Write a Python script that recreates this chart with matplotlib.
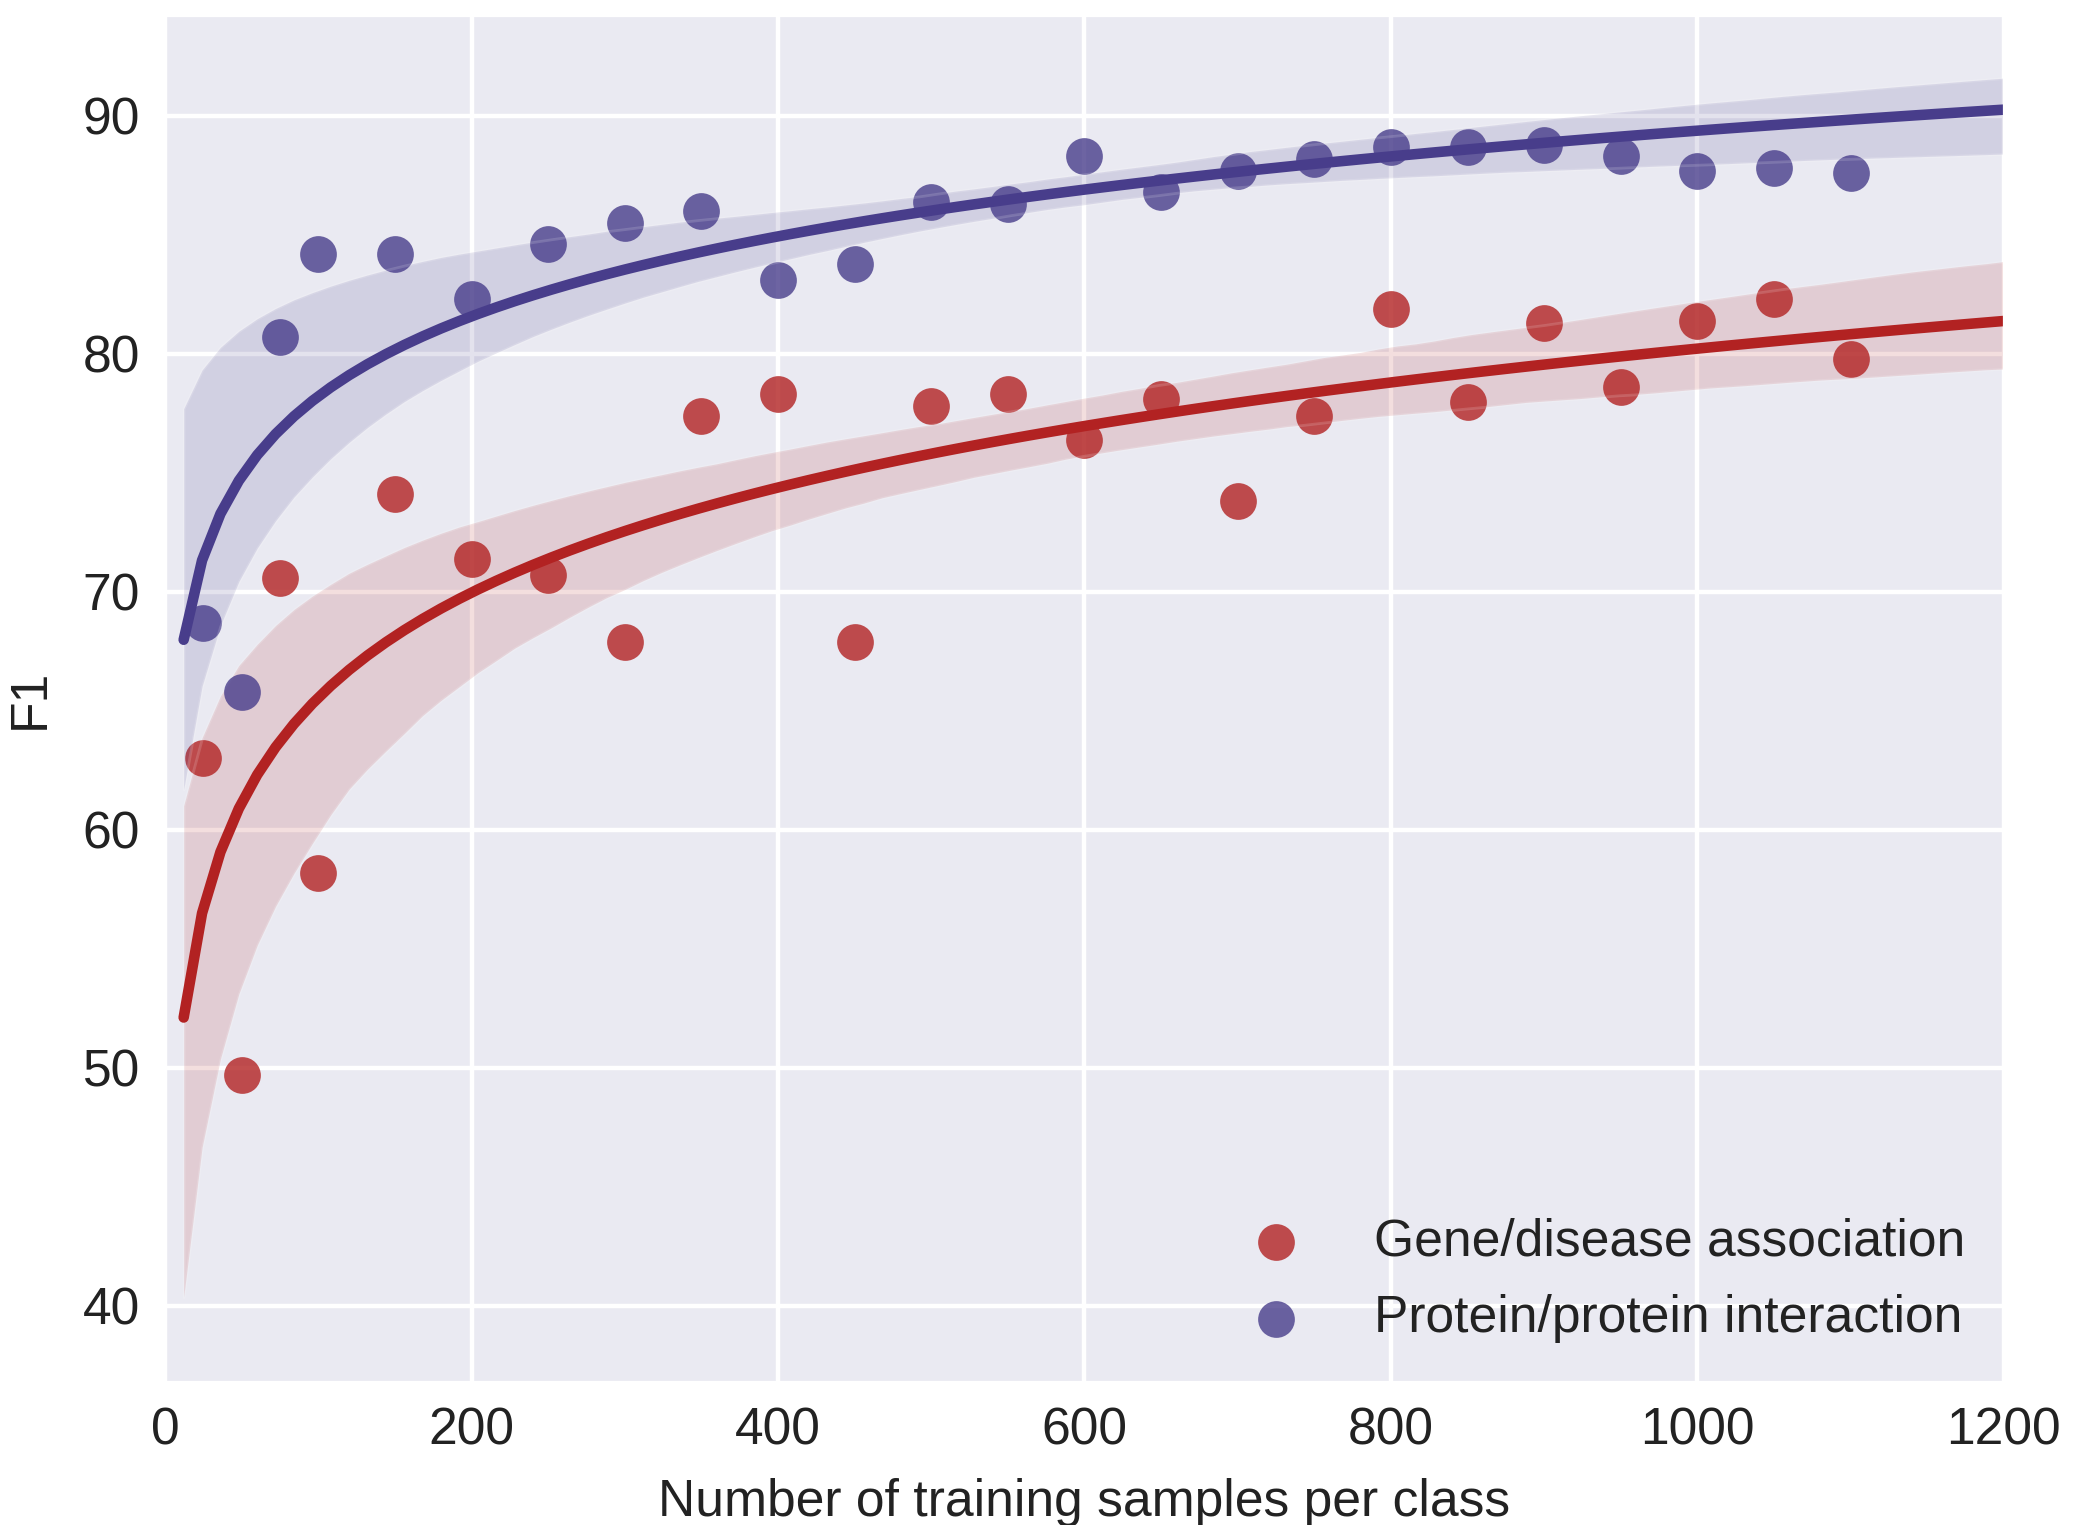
import numpy as np
import matplotlib
matplotlib.use("Agg")
import matplotlib.pyplot as plt
import seaborn as sns

# ---- data ----
samples = [25, 50, 75, 100, 150, 200, 250, 300, 350, 400, 450, 500, 550,
           600, 650, 700, 750, 800, 850, 900, 950, 1000, 1050, 1100]
gene_disease_f1 = [63.0, 49.7, 70.6, 58.2, 74.1, 71.4, 70.7, 67.9, 77.4, 78.3,
                   67.9, 77.8, 78.3, 76.4, 78.1, 73.8, 77.4, 81.9, 78.0, 81.3,
                   78.6, 81.4, 82.3, 79.8]
protein_f1 = [68.7, 65.8, 80.7, 84.2, 84.2, 82.3, 84.6, 85.5, 86.0, 83.1,
              83.8, 86.4, 86.3, 88.3, 86.8, 87.7, 88.2, 88.7, 88.7, 88.8,
              88.3, 87.7, 87.8, 87.6]
labels = ["Gene/disease association", "Protein/protein interaction"]
colors = ["#B22222", "#483D8B"]
x_ticks = [0, 200, 400, 600, 800, 1000, 1200]
y_ticks = [40, 50, 60, 70, 80, 90]

sns.set_style("darkgrid")
plt.rcParams['font.family'] = ['Liberation Sans', 'DejaVu Sans']
FS = 18.6
TXT = '#222222'

fig = plt.figure(figsize=(10.37, 7.625), dpi=200)
ax = fig.add_axes([0.0796, 0.0938, 0.8866, 0.8957])

xs = np.array(samples, dtype=float)
# grid for the fitted curve: same as linspace(0, 1200, 100) without the zero
ax.set_xlim(1200 / 99, 1200)
handles = []
for ys, lab, col in zip([gene_disease_f1, protein_f1], labels, colors):
    n_before = len(ax.collections)
    sns.regplot(x=xs, y=np.array(ys), ax=ax, logx=True, truncate=False,
                color=col, seed=3, n_boot=1000,
                scatter_kws=dict(s=175, alpha=0.8, linewidths=0),
                line_kws=dict(lw=3.8))
    sc = ax.collections[n_before]
    sc.set_label(lab)
    handles.append(sc)

ax.set_xlim(0, 1200)
ax.set_ylim(36.8, 94.2)
ax.set_xticks(x_ticks)
ax.set_yticks(y_ticks)
ax.tick_params(axis='both', labelsize=FS, pad=9, length=0, labelcolor=TXT)
ax.grid(True, color='white', lw=1.6)
ax.set_xlabel("Number of training samples per class", fontsize=FS, labelpad=8,
              color=TXT)
ax.set_ylabel("F1", fontsize=FS, labelpad=10, color=TXT)

leg = ax.legend(handles=handles, labels=labels, loc='lower right', frameon=False,
                fontsize=FS, handletextpad=0.9, labelspacing=0.53,
                borderaxespad=0.35)
for t in leg.get_texts():
    t.set_color(TXT)

fig.savefig("out.png", dpi=200)
